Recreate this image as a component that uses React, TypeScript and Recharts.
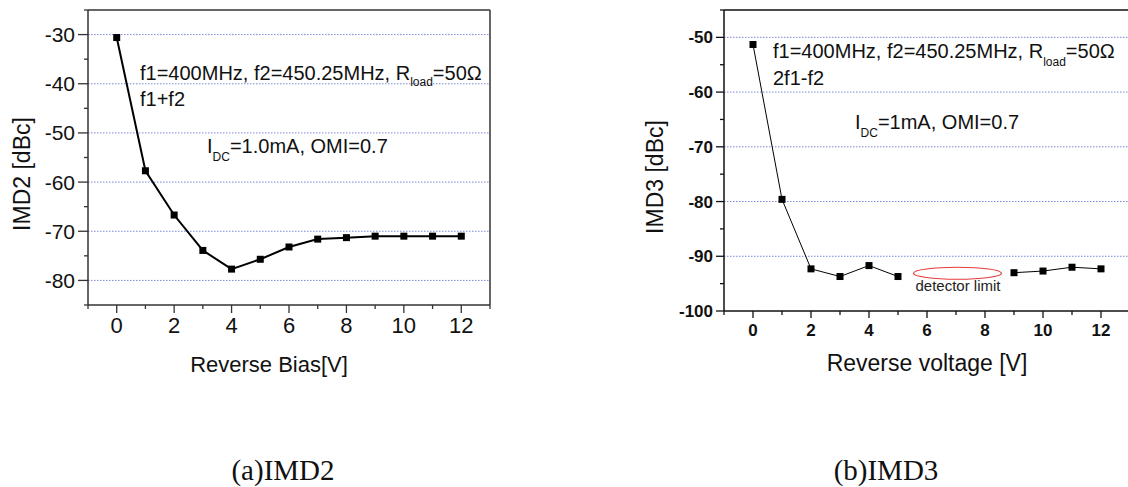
import { Line, LineChart, ReferenceDot, ReferenceLine, XAxis, YAxis } from 'recharts';

// x positions (reverse bias, V)
const biasVolts = [0, 1, 2, 3, 4, 5, 6, 7, 8, 9, 10, 11, 12];
// IMD2 (f1+f2) in dBc
const imd2Values = [-30.6, -57.7, -66.7, -73.9, -77.7, -75.7, -73.2, -71.6, -71.3, -71.0, -71.0, -71.0, -71.0];
// IMD3 (2f1-f2) in dBc, 6..8 V below the detector limit
const imd3Values = [-51.3, -79.6, -92.3, -93.7, -91.7, -93.7, null, null, null, -93.0, -92.7, -92.0, -92.3];

const xTicks = [-1, 0, 1, 2, 3, 4, 5, 6, 7, 8, 9, 10, 11, 12, 13];
const xLabelTicks = [0, 2, 4, 6, 8, 10, 12];
const imd2YTicks = [-85, -80, -75, -70, -65, -60, -55, -50, -45, -40, -35, -30, -25];
const imd2YLabels = [-80, -70, -60, -50, -40, -30];
const imd3YTicks = [-100, -95, -90, -85, -80, -75, -70, -65, -60, -55, -50, -45];
const imd3YLabels = [-100, -90, -80, -70, -60, -50];
const imd2Grid = [-30, -40, -50, -60, -70, -80];
const imd3Grid = [-50, -60, -70, -80, -90];
const detectorLimit = { x: 7.05, y: -93.1 };

const imd2Data = biasVolts.map((v, i) => ({ v, imd: imd2Values[i] }));
const imd3Data = biasVolts.map((v, i) => ({ v, imd: imd3Values[i] }));

const SANS = "Arial, 'Liberation Sans', sans-serif";
const SERIF = "'Times New Roman', 'Liberation Serif', serif";
const GRID = '#7a86d6';

type TickOpts = {
  labels: number[];
  major: number;
  minor: number;
  fontSize: number;
  bold?: boolean;
  gap: number;
  color: string;
};

const xTick = (o: TickOpts) => (p: any) => {
  const v = p.payload.value;
  const isMajor = o.labels.includes(v);
  return (
    <g key={`xt-${v}`}>
      <line x1={p.x} x2={p.x} y1={p.y} y2={p.y + (isMajor ? o.major : o.minor)} stroke={o.color} strokeWidth={1.3} />
      {isMajor && (
        <text
          x={p.x}
          y={p.y + o.gap}
          textAnchor="middle"
          fontFamily={SANS}
          fontSize={o.fontSize}
          fontWeight={o.bold ? 700 : 400}
          fill="#111"
        >
          {v}
        </text>
      )}
    </g>
  );
};

const yTick = (o: TickOpts) => (p: any) => {
  const v = p.payload.value;
  const isMajor = o.labels.includes(v);
  return (
    <g key={`yt-${v}`}>
      <line x1={p.x} x2={p.x - (isMajor ? o.major : o.minor)} y1={p.y} y2={p.y} stroke={o.color} strokeWidth={1.3} />
      {isMajor && (
        <text
          x={p.x - o.gap}
          y={p.y + o.fontSize * 0.36}
          textAnchor="end"
          fontFamily={SANS}
          fontSize={o.fontSize}
          fontWeight={o.bold ? 700 : 400}
          fill="#111"
        >
          {v}
        </text>
      )}
    </g>
  );
};

const squareDot = (size: number) => (p: any) => {
  if (p.value == null || p.cx == null || p.cy == null) return <g key={`d-${p.index}`} />;
  return (
    <rect key={`d-${p.index}`} x={p.cx - size / 2} y={p.cy - size / 2} width={size} height={size} fill="#000" />
  );
};

function Imd2Chart() {
  const axisColor = '#333';
  return (
    <LineChart width={500} height={340} data={imd2Data} margin={{ top: 10, right: 10, bottom: 0, left: 0 }}>
      {imd2Grid.map((g) => (
        <ReferenceLine key={g} y={g} stroke={GRID} strokeDasharray="1.5 1.5" strokeWidth={1} />
      ))}
      <ReferenceLine y={-25} stroke={axisColor} strokeWidth={1.5} />
      <ReferenceLine x={13} stroke={axisColor} strokeWidth={1.5} />
      <XAxis
        dataKey="v"
        type="number"
        domain={[-1, 13]}
        ticks={xTicks}
        interval={0}
        height={35}
        tickSize={0}
        tickMargin={0}
        tickLine={false}
        axisLine={{ stroke: axisColor, strokeWidth: 1.5 }}
        tick={xTick({ labels: xLabelTicks, major: 8, minor: 4, fontSize: 22, gap: 28, color: axisColor })}
      />
      <YAxis
        type="number"
        domain={[-85, -25]}
        ticks={imd2YTicks}
        interval={0}
        width={88}
        tickSize={0}
        tickMargin={0}
        tickLine={false}
        axisLine={{ stroke: axisColor, strokeWidth: 1.5 }}
        tick={yTick({ labels: imd2YLabels, major: 10, minor: 4, fontSize: 21, gap: 13, color: axisColor })}
      />
      <Line
        dataKey="imd"
        stroke="#000"
        strokeWidth={2}
        dot={squareDot(7)}
        activeDot={false}
        isAnimationActive={false}
      />
    </LineChart>
  );
}

function Imd3Chart() {
  const axisColor = '#111';
  return (
    <LineChart width={540} height={345} data={imd3Data} margin={{ top: 10, right: 10, bottom: 0, left: 0 }}>
      {imd3Grid.map((g) => (
        <ReferenceLine key={g} y={g} stroke={GRID} strokeDasharray="1.5 1.5" strokeWidth={1} />
      ))}
      <ReferenceLine y={-45} stroke={axisColor} strokeWidth={1.5} />
      <ReferenceLine x={13} stroke={axisColor} strokeWidth={1.5} />
      <XAxis
        dataKey="v"
        type="number"
        domain={[-1, 13]}
        ticks={xTicks}
        interval={0}
        height={34}
        tickSize={0}
        tickMargin={0}
        tickLine={false}
        axisLine={{ stroke: axisColor, strokeWidth: 1.5 }}
        tick={xTick({ labels: xLabelTicks, major: 7, minor: 4, fontSize: 17, bold: true, gap: 25, color: axisColor })}
      />
      <YAxis
        type="number"
        domain={[-100, -45]}
        ticks={imd3YTicks}
        interval={0}
        width={124}
        tickSize={0}
        tickMargin={0}
        tickLine={false}
        axisLine={{ stroke: axisColor, strokeWidth: 1.5 }}
        tick={yTick({ labels: imd3YLabels, major: 8, minor: 4, fontSize: 17, bold: true, gap: 11, color: axisColor })}
      />
      <ReferenceDot
        x={detectorLimit.x}
        y={detectorLimit.y}
        shape={(p: any) => (
          <ellipse cx={p.cx} cy={p.cy} rx={44} ry={6} fill="none" stroke="#e53a3a" strokeWidth={1.2} />
        )}
      />
      <Line
        dataKey="imd"
        stroke="#000"
        strokeWidth={1}
        dot={squareDot(7)}
        activeDot={false}
        isAnimationActive={false}
      />
    </LineChart>
  );
}

export default function App() {
  return (
    <div
      style={{
        position: 'fixed',
        left: 0,
        top: 0,
        width: 1128,
        height: 487,
        overflow: 'hidden',
        background: '#fff',
      }}
    >
      <div style={{ position: 'absolute', left: 0, top: 0 }}>
        <Imd2Chart />
      </div>
      <div style={{ position: 'absolute', left: 600, top: 0 }}>
        <Imd3Chart />
      </div>
      <svg
        width={1128}
        height={487}
        style={{ position: 'absolute', left: 0, top: 0, pointerEvents: 'none' }}
        fontFamily={SANS}
        fill="#111"
      >
        {/* left panel annotations */}
        <text x={140} y={80} fontSize={20}>
          f1=400MHz, f2=450.25MHz, R<tspan fontSize={12} dy={6}>load</tspan>
          <tspan dy={-6}>=50Ω</tspan>
        </text>
        <text x={140} y={106} fontSize={20}>f1+f2</text>
        <text x={207} y={153} fontSize={20}>
          I<tspan fontSize={12} dy={8}>DC</tspan>
          <tspan dy={-8}>=1.0mA, OMI=0.7</tspan>
        </text>
        <text x={269} y={372} fontSize={22} textAnchor="middle">Reverse Bias[V]</text>
        <text x={30} y={174} fontSize={23} textAnchor="middle" transform="rotate(-90 30 174)">
          IMD2 [dBc]
        </text>

        {/* right panel annotations */}
        <text x={773} y={58} fontSize={20}>
          f1=400MHz, f2=450.25MHz, R<tspan fontSize={12} dy={8}>load</tspan>
          <tspan dy={-8}>=50Ω</tspan>
        </text>
        <text x={773} y={85} fontSize={20}>2f1-f2</text>
        <text x={855} y={129} fontSize={20}>
          I<tspan fontSize={12} dy={8}>DC</tspan>
          <tspan dy={-8}>=1mA, OMI=0.7</tspan>
        </text>
        <text x={958} y={291} fontSize={15} textAnchor="middle" fill="#222">detector limit</text>
        <text x={927} y={371} fontSize={23} textAnchor="middle">Reverse voltage [V]</text>
        <text x={663} y={177} fontSize={23} textAnchor="middle" transform="rotate(-90 663 177)">
          IMD3 [dBc]
        </text>

        {/* captions */}
        <text x={283} y={480} fontSize={29} textAnchor="middle" fontFamily={SERIF}>(a)IMD2</text>
        <text x={886} y={480} fontSize={29} textAnchor="middle" fontFamily={SERIF}>(b)IMD3</text>
      </svg>
    </div>
  );
}
